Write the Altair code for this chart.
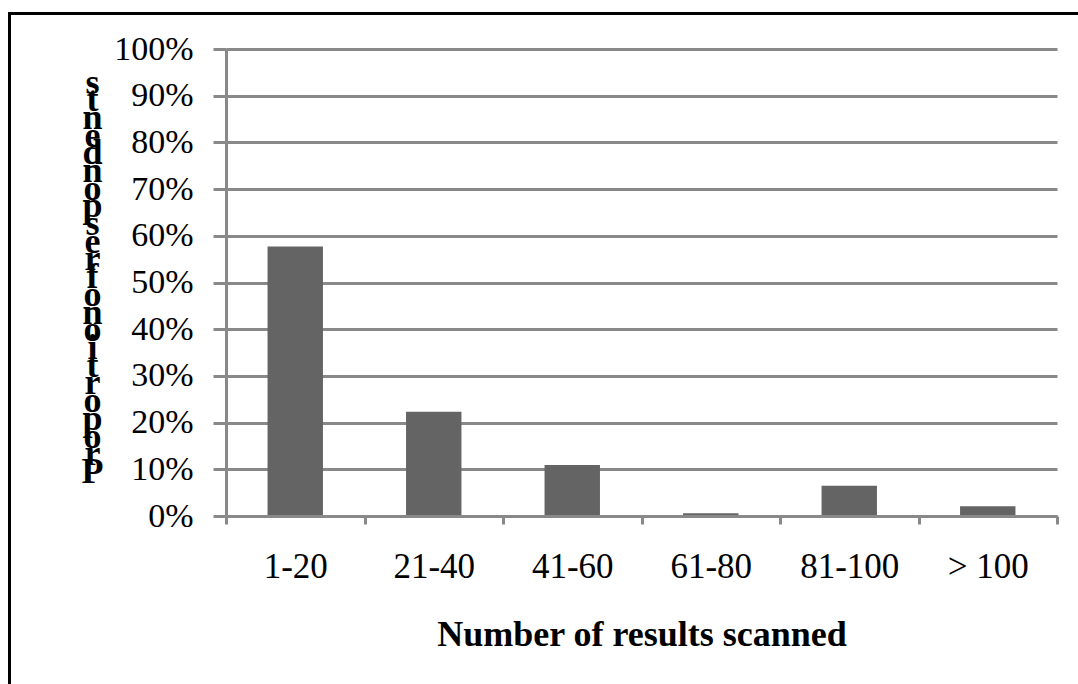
import altair as alt
import pandas as pd

# Share of respondents by how many search results they scanned
ranges = ["1-20", "21-40", "41-60", "61-80", "81-100", "> 100"]
shares = [0.577, 0.223, 0.109, 0.006, 0.065, 0.021]
y_ticks = [0.0, 0.1, 0.2, 0.3, 0.4, 0.5, 0.6, 0.7, 0.8, 0.9, 1.0]

y_title = "Proportion of respondents"
# letters stacked bottom-to-top, one per line
y_title_lines = [ch for ch in reversed(y_title) if ch != " "]

df = pd.DataFrame({"range": ranges, "share": shares})

SERIF = "Liberation Serif"
GRID = "#898989"
BAR = "#646464"

bars = alt.Chart(df).mark_bar(
    color=BAR, width=alt.RelativeBandSize(0.4)
).encode(
    x=alt.X(
        "range:N",
        sort=ranges,
        scale=alt.Scale(paddingInner=0, paddingOuter=0),
        axis=alt.Axis(
            title="Number of results scanned",
            tickBand="extent",
            labelAngle=0,
            grid=False,
            domainColor=GRID,
            domainWidth=3,
            tickColor=GRID,
            tickWidth=3,
            tickSize=8,
            labelFont=SERIF,
            labelFontSize=35,
            labelColor="black",
            labelPadding=25,
            titleFont=SERIF,
            titleFontSize=36,
            titleFontWeight="bold",
            titleColor="black",
            titleBaseline="alphabetic",
            titleY=129,
            zindex=1,
        ),
    ),
    y=alt.Y(
        "share:Q",
        scale=alt.Scale(domain=[0, 1]),
        axis=alt.Axis(
            values=y_ticks,
            format=".0%",
            grid=True,
            gridColor=GRID,
            gridWidth=3,
            domainColor=GRID,
            domainWidth=3,
            tickColor=GRID,
            tickWidth=3,
            tickSize=13,
            labelFont=SERIF,
            labelFontSize=34,
            labelColor="black",
            labelPadding=20,
            title=y_title_lines,
            titleAngle=0,
            titleFont=SERIF,
            titleFontSize=36,
            titleFontWeight="bold",
            titleColor="black",
            titleLineHeight=17.7,
            titleAlign="center",
            titleBaseline="alphabetic",
            titleX=-134,
            titleY=44,
            titleLimit=0,
        ),
    ),
)

# black outer frame around the figure
frame = alt.Chart(pd.DataFrame({"frame": [1]})).mark_rect(
    fillOpacity=0, stroke="black", strokeWidth=3
).encode(
    x=alt.value(-216.5),
    x2=alt.value(900),
    y=alt.value(-35.5),
    y2=alt.value(700),
)

chart = alt.layer(frame, bars).properties(
    width=831,
    height=467,
    autosize=alt.AutoSizeParams(type="none"),
    padding={"left": 226, "top": 49, "right": 21, "bottom": 168},
    background="white",
).configure_view(stroke=None)

chart.save("out.html", embed_options={"renderer": "svg", "actions": False})
